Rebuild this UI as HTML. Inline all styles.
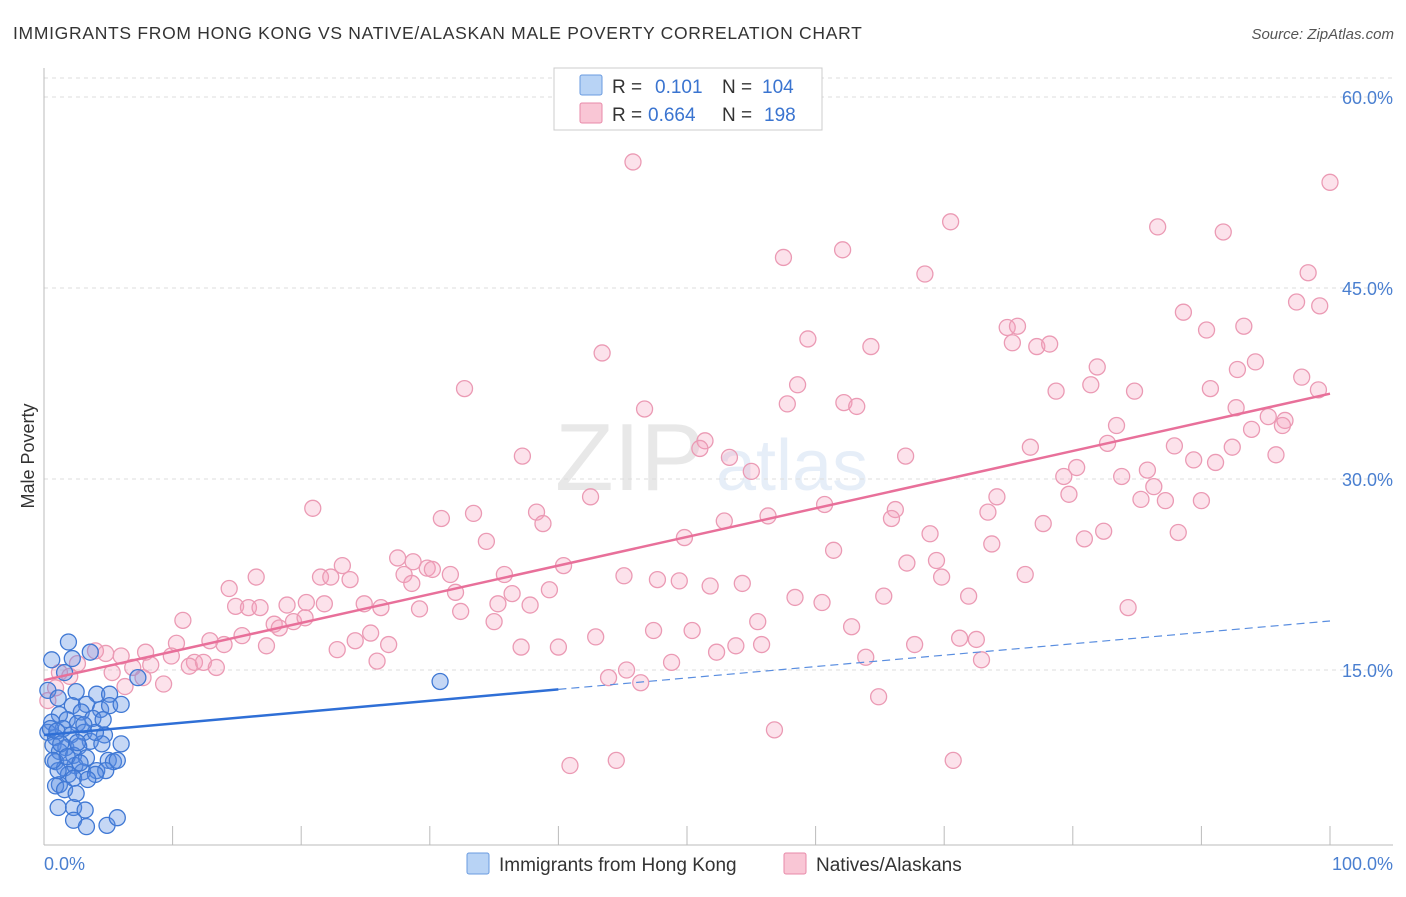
<!DOCTYPE html>
<html><head><meta charset="utf-8"><style>
body{margin:0;background:#fff;font-family:"Liberation Sans",sans-serif}
svg text{font-family:"Liberation Sans",sans-serif}
</style></head><body>
<svg id="chart" width="1406" height="892" xmlns="http://www.w3.org/2000/svg">
<text x="13" y="39" font-size="17.5" fill="#333" letter-spacing="0.7">IMMIGRANTS FROM HONG KONG VS NATIVE/ALASKAN MALE POVERTY CORRELATION CHART</text>
<text x="1394" y="39" font-size="15" fill="#555" font-style="italic" text-anchor="end">Source: ZipAtlas.com</text>
<text x="34" y="456" font-size="18" fill="#333" text-anchor="middle" transform="rotate(-90 34 456)">Male Poverty</text>
<g opacity="0.13"><text x="555" y="490" font-size="96" font-family="Liberation Serif" fill="#555">ZIP</text><text x="716" y="490" font-size="72" fill="#4a7fd0">atlas</text></g>
<g id="grid"></g>
<g id="axes"></g>
<g id="pink"></g>
<g id="blue"></g>
<g id="lines"></g>
<g>
<rect x="554" y="68" width="268" height="62" fill="#fff" stroke="#ccc"/>
<rect x="580" y="75" width="22" height="20" fill="#b8d3f5" stroke="#6a9be0" rx="2"/>
<text x="612" y="93" font-size="19" fill="#333">R = </text><text x="655" y="93" font-size="19" fill="#3a74d0">0.101</text>
<text x="722" y="93" font-size="19" fill="#333">N = </text><text x="762" y="93" font-size="19" fill="#3a74d0">104</text>
<rect x="580" y="103" width="22" height="20" fill="#f9c6d5" stroke="#e88aa9" rx="2"/>
<text x="612" y="121" font-size="19" fill="#333">R = </text><text x="648" y="121" font-size="19" fill="#3a74d0">0.664</text>
<text x="722" y="121" font-size="19" fill="#333">N = </text><text x="764" y="121" font-size="19" fill="#3a74d0">198</text>
</g>
<g>
<rect x="467" y="853" width="22" height="21" fill="#b8d3f5" stroke="#6a9be0" rx="2"/>
<text x="499" y="871" font-size="19" fill="#333">Immigrants from Hong Kong</text>
<rect x="784" y="853" width="22" height="21" fill="#f9c6d5" stroke="#e88aa9" rx="2"/>
<text x="816" y="871" font-size="19" fill="#333">Natives/Alaskans</text>
</g>
</svg>
<script>
const yTicks=[15,30,45,60];
const xTickVals=[0,10,20,30,40,50,60,70,80,90,100];
const pinkX=[45.8,100,70.5,86.6,91.7,62.1,57.5,68.5,98.3,97.4,99.2,88.6,90.4,93.3,74.9,75.7,59.4,75.3,77.2,78.2,64.3,43.4,94.2,92.8,81.9,97.8,32.7,58.6,81.4,84.8,90.7,78.7,99.1,46.7,57.8,62.2,63.2,92.7,95.2,96.5,96.3,83.4,93.9,51.4,51.0,76.7,82.7,87.9,92.4,37.2,67.0,53.3,89.4,95.8,91.1,55.0,80.3,85.8,79.3,83.8,86.3,79.7,42.5,74.1,85.3,87.2,90.0,20.9,60.7,66.2,38.3,56.3,73.4,30.9,33.4,52.9,65.9,38.8,77.7,68.9,88.2,82.4,34.4,49.8,80.9,73.7,61.4,23.2,27.5,28.7,29.8,30.2,40.4,67.1,69.4,16.5,21.5,22.3,23.8,28.0,31.6,35.8,45.1,47.7,49.4,54.3,69.8,76.3,51.8,14.4,28.6,32.0,36.4,39.3,14.9,15.9,16.8,18.9,20.4,21.8,24.9,26.2,29.2,32.4,35.3,37.8,58.4,60.5,65.3,71.9,84.3,10.8,17.9,19.4,20.3,35.0,55.5,62.8,25.4,15.4,18.3,47.4,50.4,24.2,12.9,42.9,71.2,72.5,26.8,22.8,14.0,17.3,37.1,40.0,53.8,55.8,67.7,10.3,7.9,9.9,52.3,63.9,11.7,11.3,12.4,13.4,25.9,48.8,72.9,4.8,6.0,6.9,8.3,4.0,2.6,45.3,43.9,46.4,9.3,6.3,7.7,5.3,1.2,2.0,0.9,0.3,64.9,56.8,40.9,44.5,70.7];
const pinkY=[54.9,53.3,50.2,49.8,49.4,48.0,47.4,46.1,46.2,43.9,43.6,43.1,41.7,42.0,41.9,42.0,41.0,40.7,40.4,40.6,40.4,39.9,39.2,38.6,38.8,38.0,37.1,37.4,37.4,36.9,37.1,36.9,37.0,35.5,35.9,36.0,35.7,35.6,34.9,34.6,34.2,34.2,33.9,33.0,32.4,32.5,32.8,32.6,32.5,31.8,31.8,31.7,31.5,31.9,31.3,30.6,30.9,30.7,30.2,30.2,29.4,28.8,28.6,28.6,28.4,28.3,28.3,27.7,28.0,27.6,27.4,27.1,27.4,26.9,27.3,26.7,26.9,26.5,26.5,25.7,25.8,25.9,25.1,25.4,25.3,24.9,24.4,23.2,23.8,23.5,23.0,22.9,23.2,23.4,23.6,22.3,22.3,22.3,22.1,22.5,22.5,22.5,22.4,22.1,22.0,21.8,22.3,22.5,21.6,21.4,21.8,21.1,21.0,21.3,20.0,19.9,19.9,20.1,20.3,20.2,20.2,19.9,19.8,19.6,20.2,20.1,20.7,20.3,20.8,20.8,19.9,18.9,18.6,18.8,19.1,18.8,18.8,18.4,17.9,17.7,18.3,18.1,18.1,17.3,17.3,17.6,17.5,17.4,17.0,16.6,17.0,16.9,16.8,16.8,16.9,17.0,17.0,17.1,16.4,16.1,16.4,16.0,15.6,15.3,15.6,15.2,15.7,15.6,15.8,16.3,16.1,15.2,15.4,16.5,15.5,15.0,14.4,14.0,13.9,13.7,14.4,14.8,14.8,14.5,13.6,12.6,12.9,10.3,7.5,7.9,7.9];
const blueX=[30.8,1.9,3.6,0.6,2.2,1.6,7.3,0.3,2.5,4.1,5.1,1.1,3.3,2.2,4.4,2.9,1.2,3.8,1.8,0.6,2.6,4.7,0.3,0.9,1.5,2.1,3.1,3.6,0.7,1.7,2.7,4.5,1.2,2.3,3.3,5.0,5.4,0.9,1.6,2.4,3.0,1.9,1.2,2.3,4.1,4.8,0.9,1.1,2.3,3.2,2.3,3.3,4.9,5.7,0.5,1.0,1.3,1.8,2.8,4.0,1.1,1.6,2.5,3.4,4.0,5.1,4.6,6.0,6.0,2.6,0.7,3.1,5.7];
const blueY=[14.1,17.2,16.4,15.8,15.9,14.8,14.4,13.4,13.3,13.1,13.1,12.8,12.3,12.2,11.9,11.7,11.5,11.2,11.1,10.9,10.8,9.9,10.1,9.7,10.4,9.9,10.1,9.4,9.1,8.9,9.0,9.2,8.6,8.3,8.1,7.9,7.8,7.8,7.3,7.5,7.0,6.8,6.0,6.5,7.1,7.1,5.9,4.2,4.2,4.0,3.2,2.7,2.8,3.4,10.4,10.2,9.2,8.2,7.7,6.8,7.1,5.6,5.3,6.4,10.1,12.2,11.1,12.3,9.2,9.3,7.9,10.7,7.9];
const pinkTrend=[14.2,36.7];
const blueTrend=[9.9,18.85];
const blueSolidEnd=40;
const NS='http://www.w3.org/2000/svg';
const sx=v=>44+v*12.86;
const sy=v=>861-v*12.733;
function mk(tag,attrs,parent){const e=document.createElementNS(NS,tag);for(const k in attrs)e.setAttribute(k,attrs[k]);parent.appendChild(e);return e;}
const grid=document.getElementById('grid'),axes=document.getElementById('axes');
mk('line',{x1:44,x2:1393,y1:78,y2:78,stroke:'#ddd','stroke-dasharray':'4 4'},grid);
yTicks.forEach(t=>{
 const l=mk('line',{x1:44,x2:1393,y1:sy(t),y2:sy(t),stroke:'#ddd','stroke-dasharray':'4 4'},grid);
 
 
 const tx=mk('text',{x:1393,y:sy(t)+7,'font-size':18,fill:'#4a7fd0','text-anchor':'end'},axes);
 tx.textContent=t.toFixed(1)+'%';
 
 
});
mk('line',{x1:44,x2:44,y1:68,y2:845,stroke:'#bbb'},axes);
mk('line',{x1:44,x2:1393,y1:845,y2:845,stroke:'#bbb'},axes);
xTickVals.forEach(t=>{const l=mk('line',{x1:sx(t),x2:sx(t),y1:826,y2:845,stroke:'#bbb'},axes);
 
 });
const x0=mk('text',{x:44,y:870,'font-size':18,fill:'#4a7fd0'},axes);x0.textContent='0.0%';


const x1=mk('text',{x:1393,y:870,'font-size':18,fill:'#4a7fd0','text-anchor':'end'},axes);x1.textContent='100.0%';


const pg=document.getElementById('pink');
pinkX.forEach((x,i)=>{const c=mk('circle',{cx:sx(x),cy:sy(pinkY[i]),r:8,fill:'rgba(244,160,190,0.3)',stroke:'#eb9ab4','stroke-width':1.3},pg);
 
 });
const bg=document.getElementById('blue');
blueX.forEach((x,i)=>{const c=mk('circle',{cx:sx(x),cy:sy(blueY[i]),r:8,fill:'rgba(90,140,225,0.35)',stroke:'#3f78d4','stroke-width':1.3},bg);
 
 });
const lg=document.getElementById('lines');
const pl=mk('line',{x1:sx(0),y1:sy(pinkTrend[0]),x2:sx(100),y2:sy(pinkTrend[1]),stroke:'#e8709a','stroke-width':2.5},lg);


const bAt=x=>blueTrend[0]+(blueTrend[1]-blueTrend[0])*x/100;
const bl=mk('line',{x1:sx(0),y1:sy(bAt(0)),x2:sx(blueSolidEnd),y2:sy(bAt(blueSolidEnd)),stroke:'#2f6fd6','stroke-width':2.5},lg);


const bd=mk('line',{x1:sx(blueSolidEnd),y1:sy(bAt(blueSolidEnd)),x2:sx(100),y2:sy(bAt(100)),stroke:'#5a8ee0','stroke-width':1.2,'stroke-dasharray':'8 5'},lg);


</script>
</body></html>
